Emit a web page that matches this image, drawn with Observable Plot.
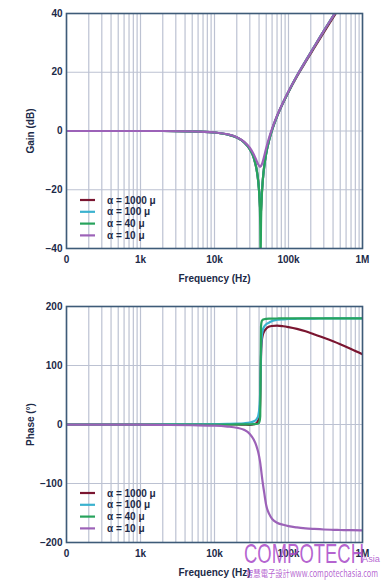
<!DOCTYPE html>
<html><head><meta charset="utf-8">
<script src="https://cdn.jsdelivr.net/npm/d3@7"></script>
<script src="https://cdn.jsdelivr.net/npm/@observablehq/plot@0.6"></script>
<style>
html,body{margin:0;padding:0;background:#fff;}
#wrap{position:relative;width:385px;height:583px;overflow:hidden;font-family:"Liberation Sans",Arial,sans-serif;}
#wrap svg{display:block;}
#overlay{position:absolute;left:0;top:0;pointer-events:none;}
</style></head><body><div id="wrap"></div>
<script>
// ---- data ----
const freqs = [100, 1000, 2000, 5000, 10000, 15000, 20000, 25000, 30000, 34000, 37000, 39000, 40500, 41500, 42000, 42500, 43500, 45000, 47000, 50000, 55000, 60000, 70000, 85000, 100000, 130000, 170000, 220000, 300000, 400000, 500000, 700000, 1000000];

const seriesNames = ["α = 1000 μ", "α = 100 μ", "α = 40 μ", "α = 10 μ"];
const seriesColors = ["#7a1530", "#3ab2cf", "#27a35c", "#9c62b8"];

const gain1000 = [0, 0, 0, -0.1, -0.5, -1.2, -2.2, -3.8, -6.2, -9.2, -13, -17.1, -22, -27, -29, -27, -21.8, -16.6, -12, -7.6, -2.9, 0.4, 5, 9.7, 13.3, 18.6, 23.5, 28.1, 33.6, 38.6, 42.5, 48.5, 54.5];
const gain100  = [0, 0, 0, -0.1, -0.5, -1.2, -2.2, -3.8, -6.2, -9.2, -13, -17.2, -21.9, -26.7, -28, -26.5, -21.6, -16.6, -12, -7.6, -2.9, 0.4, 5, 9.8, 13.4, 18.8, 23.8, 28.5, 34.1, 39.1, 43, 49, 55];
const gain40   = [0, 0, 0, -0.1, -0.5, -1.2, -2.2, -3.8, -6.2, -9.2, -13, -17.2, -23, -32, -44, -32, -22.8, -16.6, -12, -7.6, -2.9, 0.4, 5, 9.8, 13.4, 18.8, 23.8, 28.5, 34.1, 39.1, 43, 49, 55];
const gain10   = [0, 0, 0, -0.1, -0.5, -1.1, -2.1, -3.6, -5.7, -8, -10.1, -11.4, -12, -12.1, -12, -11.9, -11.4, -10.3, -8.5, -5.8, -2.1, 0.8, 5.2, 9.9, 13.5, 18.8, 23.8, 28.5, 34.1, 39.1, 43, 49, 55];

const phase1000 = [0, 0, 0, 0, 0, 0, 0, -0.3, -0.5, 0.5, 2.5, 7, 15, 42, 82, 115, 140, 152, 158, 162.5, 166, 167, 167.5, 166.5, 165, 162, 158, 153, 147, 141, 136, 128, 119];
const phase100  = [0, 0, 0.1, 0.3, 0.6, 1, 1.4, 2.1, 3.3, 5.4, 8.9, 15, 29, 59, 90, 120, 148, 160, 166, 170, 173, 175.5, 177.5, 178.3, 178.8, 179.2, 179.4, 179.6, 179.7, 179.8, 179.8, 179.9, 179.9];
const phase40   = [0, 0, 0, 0, 0, 0, 0.1, 0.2, 0.3, 0.5, 0.8, 1.5, 4.7, 14, 90, 166, 175.3, 177.6, 178.5, 179, 179.4, 179.6, 179.7, 179.8, 179.8, 179.9, 179.9, 179.9, 180, 180, 180, 180, 180];
const phase10   = [-0.1, -0.3, -0.7, -1.3, -2, -3.5, -5.5, -9, -16, -26, -37, -47, -57, -65, -70, -75, -86, -100, -116, -137, -152, -160, -166.5, -170, -172.3, -174.5, -176, -177, -178, -178.5, -178.8, -179.1, -179.3];

const xTickValues = [100, 1000, 10000, 100000, 1000000];
const xTickLabels = ["0", "1k", "10k", "100k", "1M"];
const gainTicks = [-40, -20, 0, 20, 40];
const gainTickLabels = ["−40", "−20", "0", "20", "40"];
const phaseTicks = [-200, -100, 0, 100, 200];
const phaseTickLabels = ["−200", "−100", "0", "100", "200"];

// ---- styling ----
const FONT = '"Liberation Sans", Arial, sans-serif';
const INK = "#1c2a48";
const GRID = "#bcc2d2";
const FRAME = "#3e5b78";

const gridFreqs = [];
for (const dec of [100, 1000, 10000, 100000]) for (let m = 1; m <= 9; m++) gridFreqs.push(dec * m);
gridFreqs.push(1000000);

function makeChart({series, yDomain, yTicks, yTickLabels, yLabel, height, marginTop, marginBottom}) {
  const lines = series.map((vals, i) =>
    Plot.line(freqs.map((f, k) => ({f, v: vals[k]})), {
      x: "f", y: "v", stroke: seriesColors[i], strokeWidth: 2.2, curve: "monotone-x", clip: true
    }));
  return Plot.plot({
    width: 385, height, marginLeft: 66, marginRight: 23, marginTop, marginBottom,
    style: {fontFamily: FONT, fontSize: "10px", fontWeight: "bold", color: INK, background: "transparent", overflow: "visible"},
    x: {type: "log", domain: [100, 1000000]},
    y: {domain: yDomain},
    marks: [
      Plot.gridX(gridFreqs, {stroke: GRID, strokeOpacity: 1, strokeWidth: 1.2}),
      Plot.gridY(yTicks.slice(1, -1), {stroke: GRID, strokeOpacity: 1, strokeWidth: 1.2}),
      ...lines,
      Plot.frame({stroke: FRAME, strokeWidth: 1.6}),
      Plot.axisX(xTickValues, {tickSize: 0, tickPadding: 7, tickFormat: d => xTickLabels[xTickValues.indexOf(d)],
        label: "Frequency (Hz)", labelAnchor: "center", labelArrow: "none", labelOffset: 33, fill: INK}),
      Plot.axisY(yTicks, {tickSize: 0, tickPadding: 4, tickFormat: d => yTickLabels[yTicks.indexOf(d)],
        label: yLabel, labelAnchor: "center", labelArrow: "none", labelOffset: 40, fill: INK})
    ]
  });
}

const wrap = document.getElementById("wrap");
wrap.appendChild(makeChart({
  series: [gain1000, gain100, gain40, gain10],
  yDomain: [-40, 40], yTicks: gainTicks, yTickLabels: gainTickLabels, yLabel: "Gain (dB)",
  height: 290, marginTop: 13, marginBottom: 42
}));
wrap.appendChild(makeChart({
  series: [phase1000, phase100, phase40, phase10],
  yDomain: [-200, 200], yTicks: phaseTicks, yTickLabels: phaseTickLabels, yLabel: "Phase (°)",
  height: 293, marginTop: 16, marginBottom: 41
}));

// ---- legends and watermark overlay ----
const ns = "http://www.w3.org/2000/svg";
const ov = document.createElementNS(ns, "svg");
ov.setAttribute("id", "overlay");
ov.setAttribute("width", 385); ov.setAttribute("height", 583);
function el(tag, attrs, text) {
  const e = document.createElementNS(ns, tag);
  for (const k in attrs) e.setAttribute(k, attrs[k]);
  if (text != null) e.textContent = text;
  ov.appendChild(e);
  return e;
}
for (const top of [200, 493]) {
  seriesNames.forEach((name, i) => {
    const y = top + i * 11.8;
    el("line", {x1: 80, x2: 95, y1: y, y2: y, stroke: seriesColors[i], "stroke-width": 2.2});
    el("text", {x: 107, y: y + 3.5, fill: INK, "font-family": FONT, "font-size": 10, "font-weight": "bold"}, name);
  });
}
const WM = "rgba(168,72,200,0.85)";
el("text", {x: 244, y: 563, fill: WM, "font-family": FONT, "font-size": 28, textLength: 120, lengthAdjust: "spacingAndGlyphs"}, "COMPOTECH");
el("text", {x: 362, y: 562, fill: WM, "font-family": FONT, "font-size": 9, textLength: 18, lengthAdjust: "spacingAndGlyphs"}, "Asia");
el("text", {x: 246, y: 577, fill: WM, "font-family": '"Noto Sans CJK TC", ' + FONT, "font-size": 9.5, textLength: 132, lengthAdjust: "spacingAndGlyphs"}, "智慧電子設計www.compotechasia.com");
wrap.appendChild(ov);
</script></body></html>
